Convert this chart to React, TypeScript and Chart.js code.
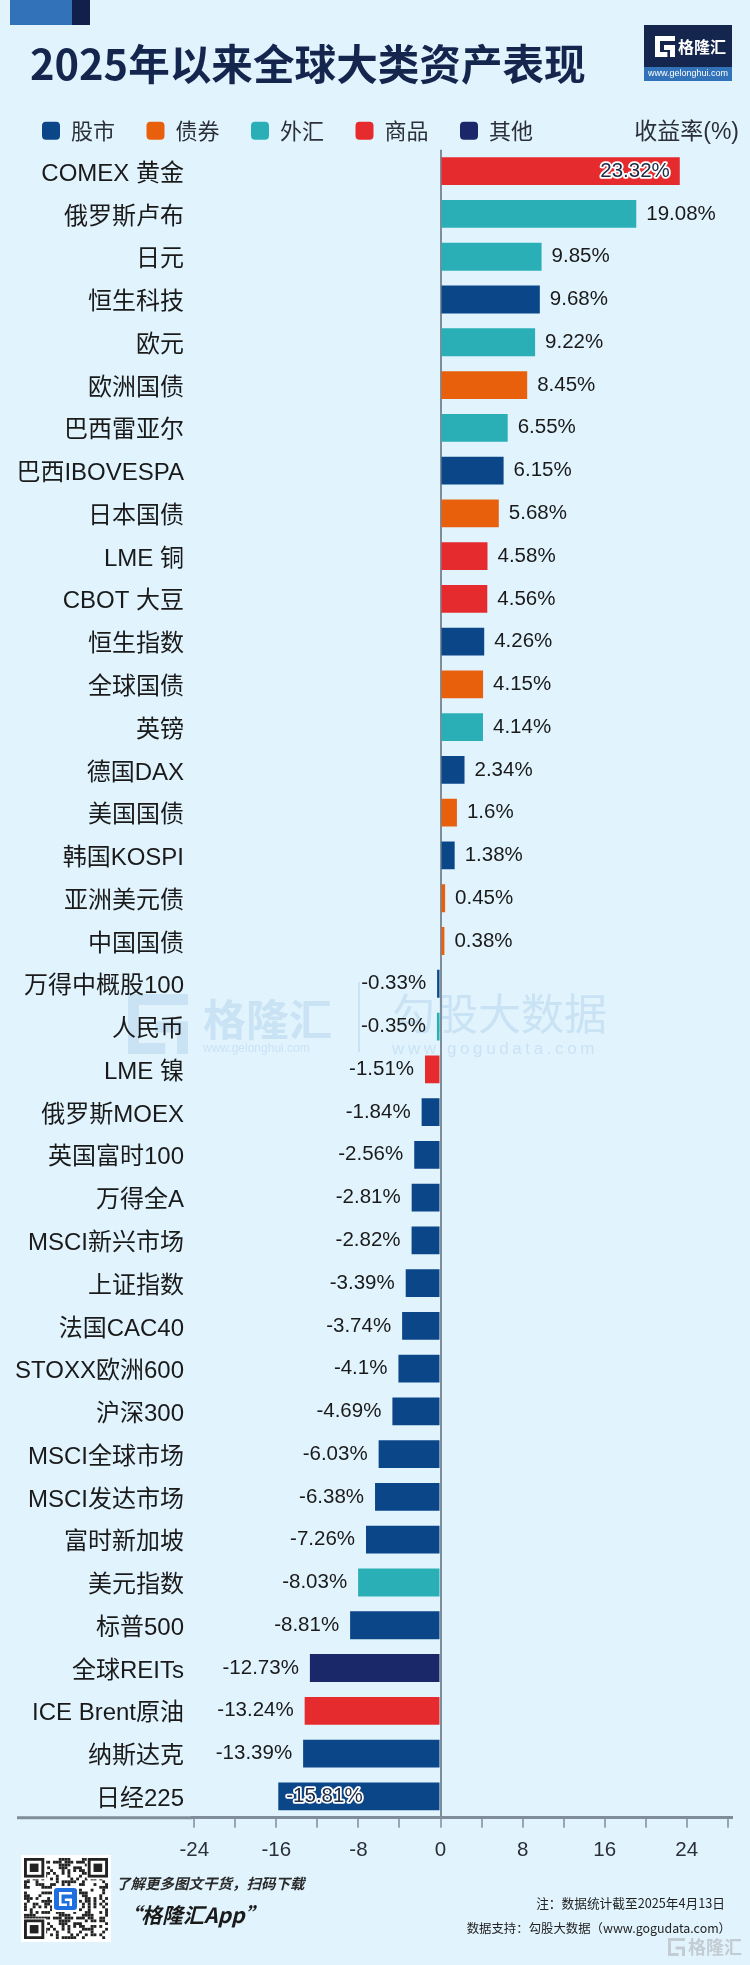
import React, { useEffect, useRef } from "react";
import { Chart, registerables } from "chart.js";

Chart.register(...registerables);

const categories = ["COMEX 黄金","俄罗斯卢布","日元","恒生科技","欧元","欧洲国债","巴西雷亚尔","巴西IBOVESPA","日本国债","LME 铜","CBOT 大豆","恒生指数","全球国债","英镑","德国DAX","美国国债","韩国KOSPI","亚洲美元债","中国国债","万得中概股100","人民币","LME 镍","俄罗斯MOEX","英国富时100","万得全A","MSCI新兴市场","上证指数","法国CAC40","STOXX欧洲600","沪深300","MSCI全球市场","MSCI发达市场","富时新加坡","美元指数","标普500","全球REITs","ICE Brent原油","纳斯达克","日经225"];
const returns = [23.32,19.08,9.85,9.68,9.22,8.45,6.55,6.15,5.68,4.58,4.56,4.26,4.15,4.14,2.34,1.6,1.38,0.45,0.38,-0.33,-0.35,-1.51,-1.84,-2.56,-2.81,-2.82,-3.39,-3.74,-4.1,-4.69,-6.03,-6.38,-7.26,-8.03,-8.81,-12.73,-13.24,-13.39,-15.81];
const assetClass = ["商品","外汇","外汇","股市","外汇","债券","外汇","股市","债券","商品","商品","股市","债券","外汇","股市","债券","股市","债券","债券","股市","外汇","商品","股市","股市","股市","股市","股市","股市","股市","股市","股市","股市","股市","外汇","股市","其他","商品","股市","股市"];
const classNames = ["股市","债券","外汇","商品","其他"];
const classColors = ["#0a4688","#e85f0c","#2aafb6","#e52b2e","#1a2769"];
const axisTicks = [-24,-20,-16,-12,-8,-4,0,4,8,12,16,20,24,28];

const BG = "#e1f4fe";
const AXIS = "#7f8c99";
const LATIN = '"Liberation Sans", "Noto Sans CJK SC", sans-serif';
const CJK = '"Noto Sans CJK SC", "Liberation Sans", sans-serif';

function txt(ctx: any, s: string, x: number, y: number, font: string, color: string, align: any = "left") {
  ctx.font = font;
  ctx.fillStyle = color;
  ctx.textAlign = align;
  ctx.textBaseline = "middle";
  ctx.fillText(s, x, y);
}

function gGlyph(ctx: any, x: number, y: number, w: number, h: number, color: string, lw: number) {
  ctx.save();
  ctx.strokeStyle = color;
  ctx.lineWidth = lw;
  ctx.lineJoin = "miter";
  ctx.beginPath();
  ctx.moveTo(x + w, y + lw / 2);
  ctx.lineTo(x + lw / 2, y + lw / 2);
  ctx.lineTo(x + lw / 2, y + h - lw / 2);
  ctx.lineTo(x + w * 0.62, y + h - lw / 2);
  ctx.moveTo(x + w * 0.45, y + h * 0.55);
  ctx.lineTo(x + w - lw / 2, y + h * 0.55);
  ctx.lineTo(x + w - lw / 2, y + h);
  ctx.stroke();
  ctx.restore();
}

function qr(ctx: any) {
  const x0 = 21, y0 = 1855, w = 90, h = 87;
  ctx.fillStyle = "#ffffff";
  ctx.fillRect(x0, y0, w, h);
  const n = 29;
  const cw = (w - 6) / n, ch = (h - 6) / n;
  ctx.fillStyle = "#222222";
  for (let r = 0; r < n; r++) {
    for (let c = 0; c < n; c++) {
      const k = (r * 7 + c * 13 + ((r * c) % 5) * 3 + ((r ^ c) & 3)) % 7;
      if (k < 3) ctx.fillRect(x0 + 3 + c * cw, y0 + 3 + r * ch, cw, ch);
    }
  }
  for (const [r, c] of [[0, 0], [0, n - 7], [n - 7, 0]]) {
    const fx = x0 + 3 + c * cw, fy = y0 + 3 + r * ch;
    ctx.fillStyle = "#ffffff";
    ctx.fillRect(fx - 1, fy - 1, 8 * cw, 8 * ch);
    ctx.fillStyle = "#222222";
    ctx.fillRect(fx, fy, 7 * cw, 7 * ch);
    ctx.fillStyle = "#ffffff";
    ctx.fillRect(fx + cw, fy + ch, 5 * cw, 5 * ch);
    ctx.fillStyle = "#222222";
    ctx.fillRect(fx + 2 * cw, fy + 2 * ch, 3 * cw, 3 * ch);
  }
  ctx.fillStyle = "#ffffff";
  ctx.fillRect(52, 1886, 27, 26);
  ctx.fillStyle = "#1f6fe0";
  ctx.beginPath();
  ctx.roundRect(54, 1888, 23, 22, 3);
  ctx.fill();
  gGlyph(ctx, 59, 1892, 13, 14, "#ffffff", 2.5);
}

const backdrop = {
  id: "backdrop",
  beforeDraw(chart: any) {
    const ctx = chart.ctx;
    ctx.save();
    ctx.fillStyle = BG;
    ctx.fillRect(0, 0, chart.width, chart.height);
    // corner tabs
    ctx.fillStyle = "#3272b8";
    ctx.fillRect(10, 0, 62, 25);
    ctx.fillStyle = "#10204a";
    ctx.fillRect(72, 0, 18, 25);
    // centre watermark
    const wm = "#c9e2f4";
    gGlyph(ctx, 128, 994, 60, 60, wm, 11);
    txt(ctx, "格隆汇", 203, 1020, `700 43px ${CJK}`, wm);
    txt(ctx, "www.gelonghui.com", 203, 1049, `12px ${LATIN}`, wm);
    ctx.fillStyle = wm;
    ctx.fillRect(358, 982, 2, 70);
    txt(ctx, "勾股大数据", 392, 1014, `43px ${CJK}`, wm);
    ctx.letterSpacing = "3.6px";
    txt(ctx, "www.gogudata.com", 392, 1049, `17px ${LATIN}`, wm);
    ctx.letterSpacing = "0px";
    ctx.restore();
  },
  afterLayout(chart: any) {
    chart.titleBlock.left = 30;
    chart.titleBlock.top += 3;
    chart.legend.left = 10.5;
    chart.legend.top += 2;
  },
};

const valueLabels = {
  id: "valueLabels",
  afterDatasetsDraw(chart: any) {
    const ctx = chart.ctx;
    ctx.save();
    const font = `20.5px ${LATIN}`;
    chart.data.datasets.forEach((ds: any, di: number) => {
      chart.getDatasetMeta(di).data.forEach((bar: any, i: number) => {
        const v = ds.data[i];
        if (v === null || v === undefined) return;
        const s = `${v}%`;
        const inside = v > 20 || v < -15;
        ctx.font = font;
        ctx.textBaseline = "middle";
        if (inside) {
          const x = v > 0 ? bar.x - 10 : bar.x + 8;
          ctx.textAlign = v > 0 ? "right" : "left";
          ctx.lineJoin = "round";
          ctx.lineWidth = 3.5;
          ctx.strokeStyle = "#ffffff";
          ctx.strokeText(s, x, bar.y);
          ctx.fillStyle = "#1c2a44";
          ctx.fillText(s, x, bar.y);
        } else {
          ctx.fillStyle = "#1a1a1a";
          ctx.textAlign = v > 0 ? "left" : "right";
          ctx.fillText(s, bar.x + (v > 0 ? 10 : -11), bar.y);
        }
      });
    });
    ctx.restore();
  },
  afterDraw(chart: any) {
    const ctx = chart.ctx;
    ctx.save();
    // x axis line continues left of the plot area, under the category labels
    ctx.strokeStyle = AXIS;
    ctx.lineWidth = 3;
    ctx.beginPath();
    ctx.moveTo(17, chart.chartArea.bottom);
    ctx.lineTo(chart.chartArea.left, chart.chartArea.bottom);
    ctx.stroke();
    // logo
    ctx.fillStyle = "#14264d";
    ctx.fillRect(644, 25, 88, 42);
    ctx.fillStyle = "#3272b8";
    ctx.fillRect(644, 67, 88, 14);
    gGlyph(ctx, 655, 36, 20, 21, "#ffffff", 5);
    txt(ctx, "格隆汇", 678, 47, `700 16px ${CJK}`, "#ffffff");
    txt(ctx, "www.gelonghui.com", 688, 74, `9px ${LATIN}`, "#ffffff", "center");
    txt(ctx, "收益率(%)", 739, 133, `23px ${LATIN}`, "#2a2f38", "right");
    // footer
    qr(ctx);
    txt(ctx, "了解更多图文干货，扫码下载", 116, 1883, `italic 700 14.5px ${CJK}`, "#2a2a2a");
    txt(ctx, "“格隆汇App”", 120, 1915, `italic 700 21px ${CJK}`, "#1a1a1a");
    txt(ctx, "注：数据统计截至2025年4月13日", 725, 1903, `12.7px ${CJK}`, "#222222", "right");
    txt(ctx, "数据支持：勾股大数据（www.gogudata.com）", 731, 1928, `12.4px ${CJK}`, "#222222", "right");
    const gm = "#c3ccd3";
    gGlyph(ctx, 668, 1938, 17, 18, gm, 3);
    txt(ctx, "格隆汇", 688, 1947, `700 18px ${CJK}`, gm);
    ctx.restore();
  },
};

export default function App() {
  const ref = useRef<HTMLCanvasElement | null>(null);
  useEffect(() => {
    document.body.style.margin = "0";
    document.body.style.background = BG;
    const chart = new Chart(ref.current as HTMLCanvasElement, {
      type: "bar",
      data: {
        labels: categories,
        datasets: classNames.map((name, k) => ({
          label: name,
          data: returns.map((v, i) => (assetClass[i] === name ? v : null)),
          backgroundColor: classColors[k],
          barPercentage: 0.65,
          categoryPercentage: 1,
          stack: "all",
        })),
      },
      options: {
        indexAxis: "y",
        responsive: false,
        animation: false,
        layout: { padding: { top: 35.9, left: 0, right: 18, bottom: 99.3 } },
        plugins: {
          tooltip: { enabled: false },
          title: {
            display: true,
            text: "2025年以来全球大类资产表现",
            align: "start",
            color: "#14264d",
            padding: 0,
            font: { family: CJK, size: 41.6, weight: "bold", lineHeight: 1.212 },
          },
          legend: {
            display: true,
            position: "top",
            align: "start",
            labels: {
              boxWidth: 18,
              boxHeight: 18,
              useBorderRadius: true,
              borderRadius: 4,
              padding: 31.5,
              color: "#2a2f38",
              font: { family: CJK, size: 22 },
            },
          },
        },
        scales: {
          x: {
            type: "linear",
            stacked: true,
            min: -24.22,
            max: 28.41,
            afterBuildTicks: (s: any) => {
              s.ticks = axisTicks.map((value) => ({ value }));
            },
            afterFit: (s: any) => {
              s.height = 48;
            },
            grid: {
              drawOnChartArea: true,
              drawTicks: true,
              tickLength: 10,
              tickColor: AXIS,
              tickWidth: 1.5,
              lineWidth: 2,
              color: (c: any) => (c.tick && c.tick.value === 0 ? AXIS : "rgba(0,0,0,0)"),
            },
            border: { color: AXIS, width: 3 },
            ticks: {
              autoSkip: false,
              maxRotation: 0,
              padding: 10,
              color: "#2a2f38",
              font: { family: LATIN, size: 20.5 },
              callback: (v: any) => (Number(v) % 8 === 0 ? String(v) : ""),
            },
          },
          y: {
            type: "category",
            stacked: true,
            position: "left",
            afterFit: (s: any) => {
              s.width = 192;
            },
            grid: { display: false, drawTicks: false },
            border: { display: false },
            ticks: {
              autoSkip: false,
              padding: 8,
              labelOffset: 3,
              color: "#1a1a1a",
              font: { family: LATIN, size: 24 },
            },
          },
        },
      } as any,
      plugins: [backdrop, valueLabels],
    });
    return () => chart.destroy();
  }, []);
  return <canvas ref={ref} width={750} height={1965} style={{ display: "block" }} />;
}
